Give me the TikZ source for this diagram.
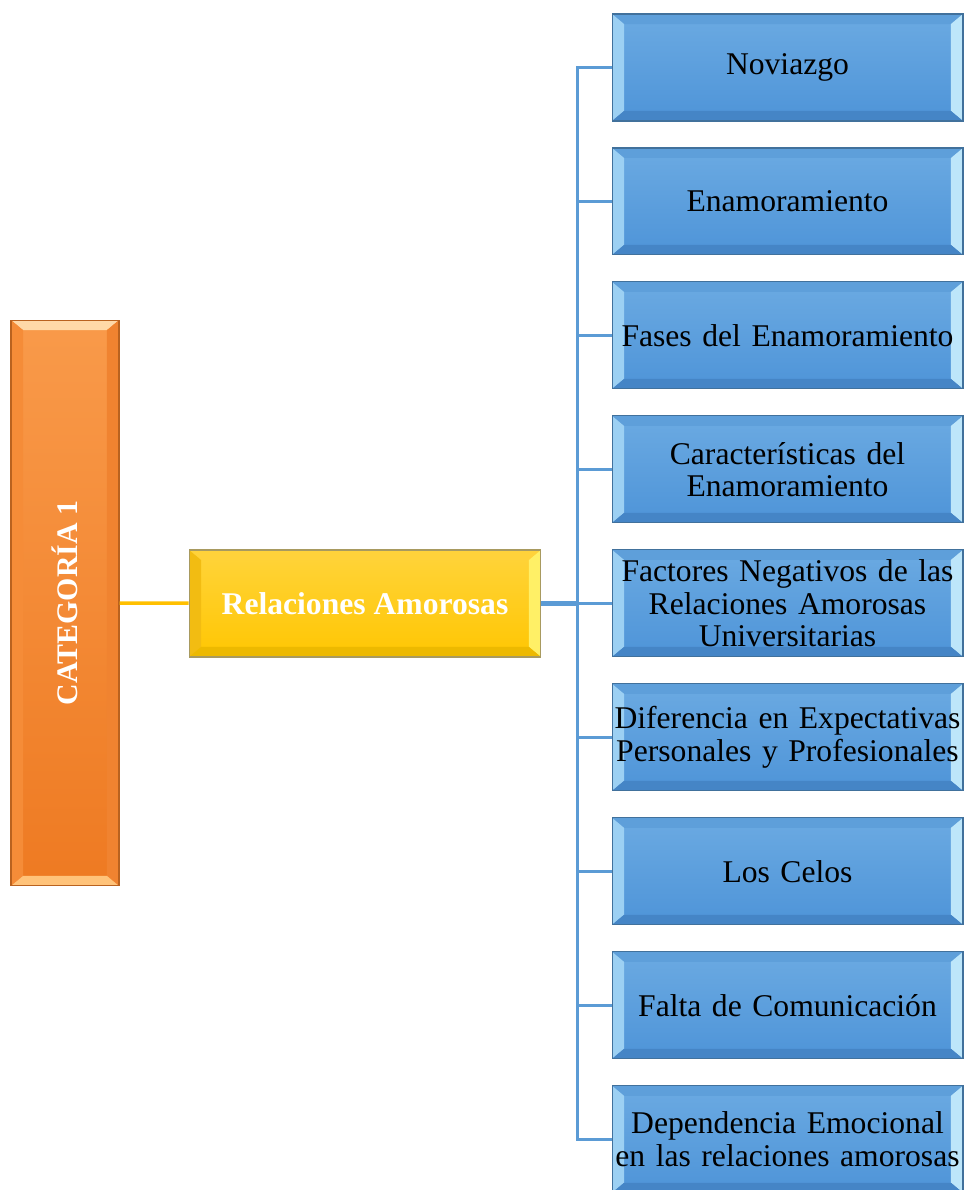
\documentclass[tikz,border=0pt]{standalone}
\usepackage{fontspec}
\setmainfont{Liberation Serif}
\usepackage{tikz}
\usetikzlibrary{calc}
\usetikzlibrary{positioning}

\definecolor{bface1}{HTML}{6BAAE2}
\definecolor{bface2}{HTML}{4E94D8}
\definecolor{bedge}{HTML}{41719C}
\definecolor{btop}{HTML}{5E9FDA}
\definecolor{bleft}{HTML}{9CD0F3}
\definecolor{bright}{HTML}{BDE6FA}
\definecolor{bbot}{HTML}{4585C6}
\definecolor{oface1}{HTML}{F99A4A}
\definecolor{oface2}{HTML}{EE7A22}
\definecolor{oedge}{HTML}{B9621F}
\definecolor{otop}{HTML}{FFD9A8}
\definecolor{oleft}{HTML}{F58C38}
\definecolor{oright}{HTML}{F08330}
\definecolor{obot}{HTML}{FFC37A}
\definecolor{yface1}{HTML}{FFD43B}
\definecolor{yface2}{HTML}{FFC602}
\definecolor{yedge}{HTML}{A89A60}
\definecolor{ytop}{HTML}{FFD23A}
\definecolor{yleft}{HTML}{F2BC12}
\definecolor{yright}{HTML}{FFF066}
\definecolor{ybot}{HTML}{EDB900}
\definecolor{yline}{HTML}{FFC000}
\definecolor{bline}{HTML}{5B9BD5}

\begin{document}
\begin{tikzpicture}[x=0.02cm,y=-0.02cm,node distance=2.68cm,
  bevel/.style n args={4}{path picture={
    \coordinate (bnw) at (path picture bounding box.north west);
    \coordinate (bne) at (path picture bounding box.north east);
    \coordinate (bsw) at (path picture bounding box.south west);
    \coordinate (bse) at (path picture bounding box.south east);
    \fill[#1] (bnw) -- (bne) -- ($(bne)+(-12,10)$) -- ($(bnw)+(12,10)$) -- cycle;
    \fill[#2] (bnw) -- ($(bnw)+(12,10)$) -- ($(bsw)+(12,-10)$) -- (bsw) -- cycle;
    \fill[#3] (bne) -- ($(bne)+(-12,10)$) -- ($(bse)+(-12,-10)$) -- (bse) -- cycle;
    \fill[#4] (bsw) -- (bse) -- ($(bse)+(-12,-10)$) -- ($(bsw)+(12,-10)$) -- cycle;
  }},
  box/.style={draw=bedge,line width=0.6pt,top color=bface1,bottom color=bface2,
    bevel={btop}{bleft}{bright}{bbot},minimum width=7.02cm,minimum height=2.14cm,
    text width=7.02cm,inner sep=0pt,align=center,
    font=\fontsize{18}{18.5}\selectfont},
  subbox/.style={draw=yedge,line width=0.6pt,top color=yface1,bottom color=yface2,
    bevel={ytop}{yleft}{yright}{ybot},minimum width=7.04cm,minimum height=2.14cm,
    inner sep=0pt,text=white,font=\fontsize{18}{18.5}\selectfont\bfseries},
  catbox/.style={draw=oedge,line width=0.6pt,top color=oface1,bottom color=oface2,
    bevel={otop}{oleft}{oright}{obot},minimum width=2.16cm,minimum height=11.32cm,
    inner sep=0pt,text=white,font=\fontsize{17}{17.5}\selectfont\bfseries},
  conn/.style={line width=1.7pt,bline}]
  \useasboundingbox (0,0) rectangle (965,1190);

  \node[catbox] (cat) at (65,603) {\rotatebox{90}{CATEGORÍA 1}};
  \node[subbox] (rel) at (365,603.5) {Relaciones Amorosas};

  \node[box] (1) at (787.5,67.5) {Noviazgo};
  \node[box,below of=1] (2) {Enamoramiento};
  \node[box,below of=2] (3) {Fases del Enamoramiento};
  \node[box,below of=3] (4) {Características del\\Enamoramiento};
  \node[box,below of=4] (5) {Factores Negativos de las\\Relaciones Amorosas\\Universitarias};
  \node[box,below of=5] (6) {Diferencia en Expectativas\\Personales y Profesionales};
  \node[box,below of=6] (7) {Los Celos};
  \node[box,below of=7] (8) {Falta de Comunicación};
  \node[box,below of=8] (9) {Dependencia Emocional\\en las relaciones amorosas};

  \coordinate (trunk) at (577,603.5);
  \draw[line width=2pt,yline] (cat) -- (rel);
  \draw[conn,line width=2.4pt] (rel) -- (trunk);
  \foreach \i in {1,...,9}
    \draw[conn] (trunk) |- (\i.west);
\end{tikzpicture}
\end{document}
